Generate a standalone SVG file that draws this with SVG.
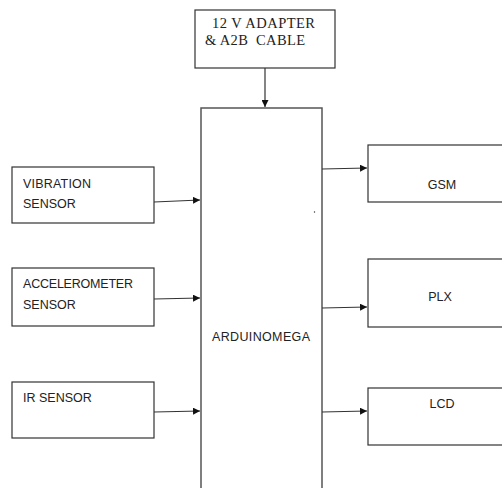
<svg xmlns="http://www.w3.org/2000/svg" width="502" height="488" viewBox="0 0 502 488">
<style>
.box{fill:#fff;stroke:#333;stroke-width:1.2}
.main{fill:#fff;stroke:#555;stroke-width:1.5}
.t{font-family:"Liberation Sans",Arial,sans-serif;font-size:12.5px;fill:#222}
.s{font-family:"Liberation Serif","Times New Roman",serif;font-size:14.5px;fill:#222}
.c{stroke:#333;stroke-width:1.2;fill:none;marker-end:url(#ah)}
</style>
<defs>
<marker id="ah" viewBox="0 0 10 10" refX="10" refY="5" markerWidth="7" markerHeight="7" markerUnits="userSpaceOnUse" orient="auto">
<path d="M0,0 L10,5 L0,10 z" fill="#111"/>
</marker>
</defs>
<rect width="502" height="488" fill="#fff"/>
<g id="adapter">
<rect class="box" x="195" y="10" width="140" height="58"/>
<text class="s" x="212" y="28" textLength="103">12 V ADAPTER</text>
<text class="s" x="205" y="45" xml:space="preserve" textLength="100">&amp; A2B  CABLE</text>
</g>
<g id="arduino">
<path class="main" d="M201,489 L201,108 L322,108 L322,489"/>
<text class="t" x="212" y="341" textLength="98">ARDUINOMEGA</text>
<circle cx="314.5" cy="212" r="0.7" fill="#333"/>
</g>
<g id="vibration">
<rect class="box" x="12" y="167" width="142" height="56"/>
<text class="t" x="23" y="188" textLength="68">VIBRATION</text>
<text class="t" x="23" y="208">SENSOR</text>
</g>
<g id="accelerometer">
<rect class="box" x="12" y="268" width="142" height="58"/>
<text class="t" x="23" y="288" textLength="110">ACCELEROMETER</text>
<text class="t" x="23" y="309">SENSOR</text>
</g>
<g id="ir">
<rect class="box" x="12" y="382" width="142" height="56"/>
<text class="t" x="23" y="402">IR SENSOR</text>
</g>
<g id="gsm">
<rect class="box" x="368" y="145" width="140" height="57"/>
<text class="t" x="442" y="189" text-anchor="middle">GSM</text>
</g>
<g id="plx">
<rect class="box" x="368" y="259" width="140" height="68"/>
<text class="t" x="440" y="301" text-anchor="middle">PLX</text>
</g>
<g id="lcd">
<rect class="box" x="368" y="388" width="140" height="57"/>
<text class="t" x="442" y="408" text-anchor="middle">LCD</text>
</g>
<g id="connectors">
<line class="c" x1="265" y1="68" x2="265" y2="107"/>
<line class="c" x1="154" y1="202" x2="200" y2="200"/>
<line class="c" x1="154" y1="299" x2="200" y2="298"/>
<line class="c" x1="154" y1="412" x2="200" y2="411"/>
<line class="c" x1="322" y1="169" x2="367" y2="168"/>
<line class="c" x1="322" y1="308" x2="367" y2="307"/>
<line class="c" x1="322" y1="412" x2="367" y2="411"/>
</g>
</svg>
